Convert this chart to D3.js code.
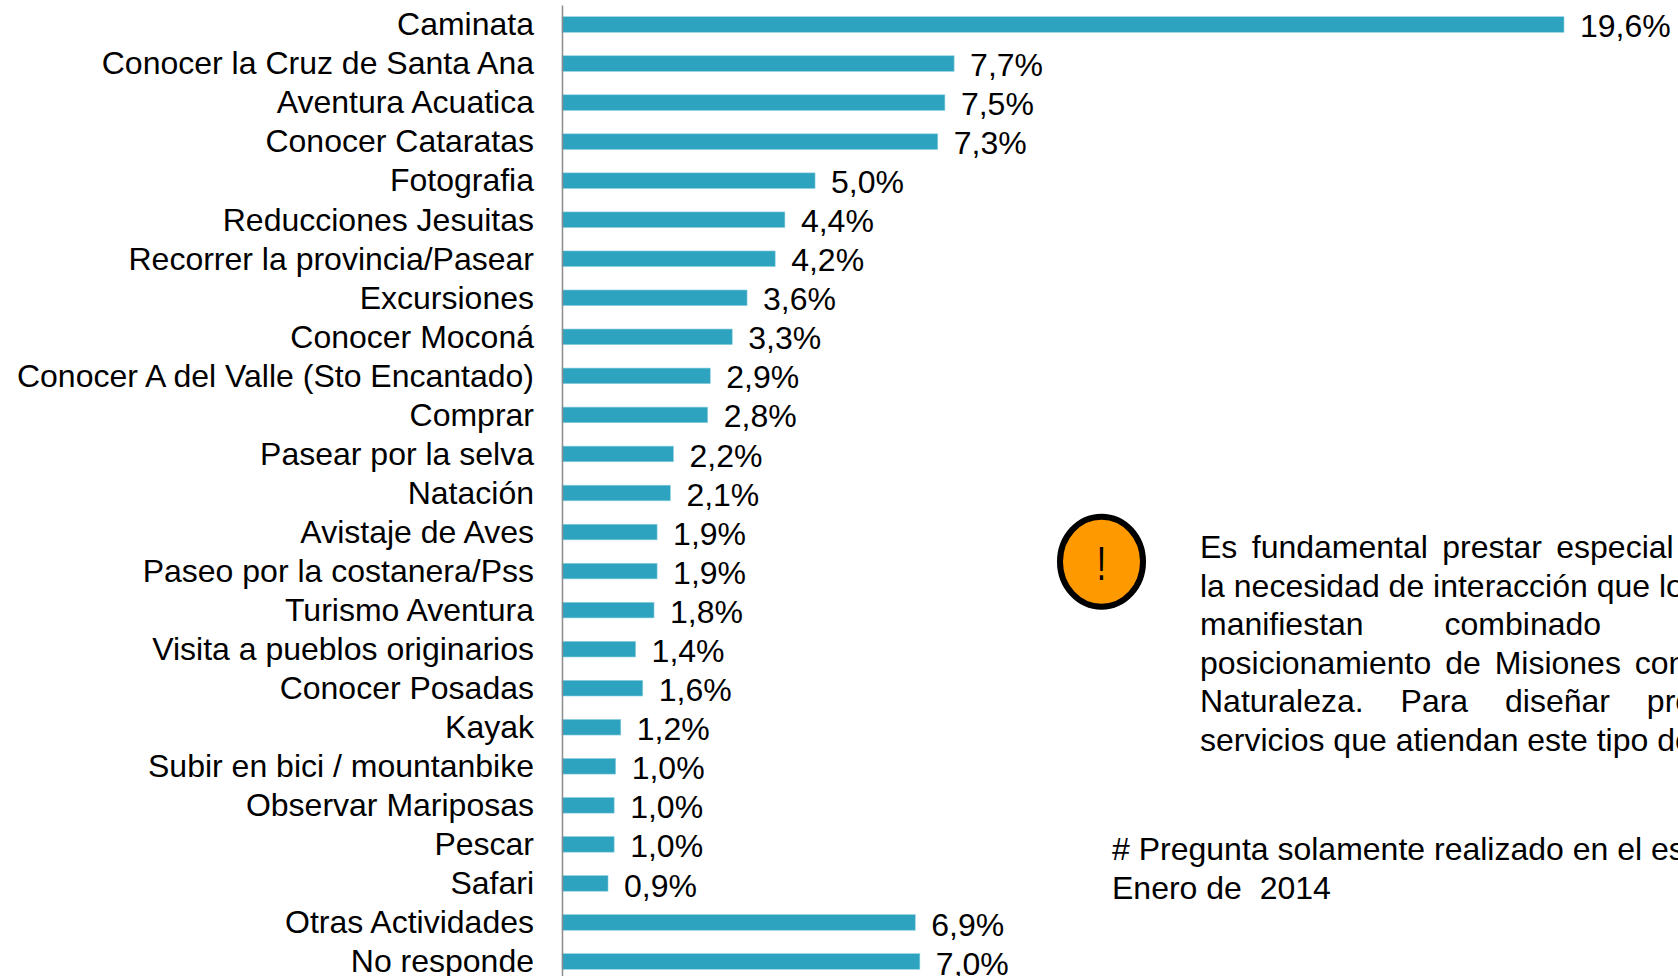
<!DOCTYPE html>
<html>
<head>
<meta charset="utf-8">
<script src="https://cdn.jsdelivr.net/npm/d3@7"></script>
<style>
html, body { margin: 0; padding: 0; background: #fff; overflow: hidden; }
svg { display: block; }
text { font-family: "Liberation Sans", Arial, sans-serif; font-size: 32px; fill: #000; }
</style>
</head>
<body>
<svg width="1678" height="976"></svg>
<script>
const categories = ["Caminata", "Conocer la Cruz de Santa Ana", "Aventura Acuatica", "Conocer Cataratas", "Fotografia",
    "Reducciones Jesuitas", "Recorrer la provincia/Pasear", "Excursiones", "Conocer Moconá",
    "Conocer A del Valle (Sto Encantado)", "Comprar", "Pasear por la selva", "Natación", "Avistaje de Aves",
    "Paseo por la costanera/Pss", "Turismo Aventura", "Visita a pueblos originarios", "Conocer Posadas", "Kayak",
    "Subir en bici / mountanbike", "Observar Mariposas", "Pescar", "Safari", "Otras Actividades", "No responde"]
// bar lengths, a bit finer than the printed labels
const values = [19.6, 7.67, 7.49, 7.35, 4.95, 4.36, 4.17, 3.62, 3.33, 2.9, 2.85, 2.18, 2.12, 1.86, 1.86, 1.8, 1.44, 1.58, 1.15, 1.05, 1.02, 1.02, 0.9, 6.91, 7.0]
const valueLabels = ["19,6%", "7,7%", "7,5%", "7,3%", "5,0%", "4,4%", "4,2%", "3,6%", "3,3%", "2,9%", "2,8%", "2,2%", "2,1%", "1,9%", "1,9%", "1,8%", "1,4%", "1,6%", "1,2%", "1,0%", "1,0%", "1,0%", "0,9%", "6,9%", "7,0%"]
const noteLines = ["Es fundamental prestar especial", "la necesidad de interacción que los", "manifiestan combinado",
    "posicionamiento de Misiones con", "Naturaleza. Para diseñar productos", "servicios que atiendan este tipo de"]
const noteSpacing = [5.5, 0, 72, 5, 28, 0]
const footLines = ["# Pregunta solamente realizado en el estudio", "Enero de  2014"]

const data = categories.map((c, i) => ({ name: c, value: values[i], label: valueLabels[i] }))
const svg = d3.select("svg")

const x = d3.scaleLinear().domain([0, 19.6]).range([562, 1564])
const y = d3.scaleBand().domain(categories).range([5, 981]).paddingInner(0.6).paddingOuter(0.3)
// labels in the picture drift a little against the bars going down
const labelDrift = d3.scaleLinear().domain([0, 24]).range([0, 1.2])
const tickDrift = d3.scaleLinear().domain([0, 6, 24]).range([-0.2, 0.7, 0.7])

svg.selectAll("rect.bar")
    .data(data)
    .enter()
    .append("rect")
    .attr("class", "bar")
    .attr("x", x(0))
    .attr("y", d => y(d.name))
    .attr("width", d => x(d.value) - x(0))
    .attr("height", y.bandwidth())
    .attr("fill", "#2ea3c0")
    .attr("stroke", "#8fd0e0")
    .attr("stroke-width", 0.6)

svg.append("g")
    .attr("transform", "translate(562,0)")
    .call(d3.axisLeft(y).tickSize(0).tickPadding(28))
    .call(g => g.select(".domain").attr("stroke", "#8c8c8c").attr("stroke-width", 1.5))
    .call(g => g.selectAll("text").attr("font-size", null).attr("font-family", null).attr("dy", "0.32em").attr("y", (d, i) => tickDrift(i)))

svg.selectAll("text.val")
    .data(data)
    .enter()
    .append("text")
    .attr("class", "val")
    .attr("x", d => x(d.value) + 16)
    .attr("y", (d, i) => y(d.name) + y.bandwidth() / 2 + 12 + labelDrift(i))
    .text(d => d.label)

svg.append("ellipse")
    .attr("cx", 1101.5).attr("cy", 561.7)
    .attr("rx", 41.5).attr("ry", 45)
    .attr("fill", "#ff9900").attr("stroke", "#000").attr("stroke-width", 6)

svg.append("text")
    .attr("transform", "translate(1101.5,580) scale(0.7,1)")
    .attr("text-anchor", "middle")
    .style("font-size", "48px")
    .text("!")

svg.selectAll("text.note")
    .data(noteLines)
    .enter()
    .append("text")
    .attr("class", "note")
    .attr("x", 1200)
    .attr("y", (d, i) => 558 + i * 38.5)
    .attr("word-spacing", (d, i) => noteSpacing[i])
    .text(d => d)

svg.selectAll("text.foot")
    .data(footLines)
    .enter()
    .append("text")
    .attr("class", "foot")
    .attr("x", 1112)
    .attr("y", (d, i) => 860 + i * 39)
    .style("white-space", "pre")
    .text(d => d)
</script>
</body>
</html>
